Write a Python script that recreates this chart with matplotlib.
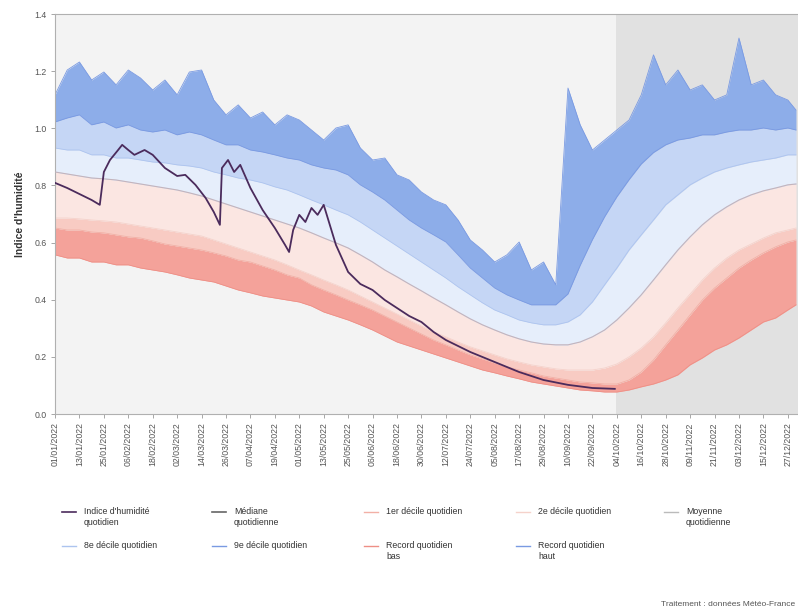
import matplotlib
matplotlib.use("Agg")
import matplotlib.pyplot as plt
from datetime import date

plt.rcParams['font.family'] = ['Liberation Sans', 'DejaVu Sans']

# day of year (0 = 1 January) for the climatology series
days = list(range(0, 361, 6)) + [364]

record_high = [1.117, 1.204, 1.232, 1.169, 1.197, 1.152, 1.204, 1.176, 1.134, 1.169,
               1.117, 1.197, 1.204, 1.099, 1.047, 1.082, 1.036, 1.057, 1.012, 1.047,
               1.029, 0.994, 0.959, 1.001, 1.012, 0.931, 0.889, 0.896, 0.837, 0.819,
               0.777, 0.749, 0.732, 0.679, 0.609, 0.574, 0.532, 0.557, 0.602, 0.504,
               0.532, 0.452, 1.141, 1.012, 0.924, 0.959, 0.994, 1.029, 1.117, 1.257,
               1.152, 1.204, 1.134, 1.152, 1.099, 1.117, 1.316, 1.152, 1.169, 1.117,
               1.099, 1.064]
decile_9 = [1.022, 1.036, 1.047, 1.012, 1.022, 1.001, 1.012, 0.994, 0.987, 0.994,
            0.977, 0.987, 0.977, 0.959, 0.942, 0.942, 0.924, 0.917, 0.907, 0.896,
            0.889, 0.872, 0.861, 0.854, 0.837, 0.802, 0.777, 0.749, 0.714, 0.679,
            0.651, 0.627, 0.602, 0.557, 0.511, 0.476, 0.441, 0.417, 0.399, 0.382,
            0.382, 0.382, 0.420, 0.520, 0.610, 0.690, 0.760, 0.820, 0.875, 0.915,
            0.942, 0.959, 0.966, 0.977, 0.977, 0.987, 0.994, 0.994, 1.001, 0.994,
            1.001, 0.994]
decile_8 = [0.931, 0.924, 0.924, 0.907, 0.907, 0.896, 0.896, 0.889, 0.882, 0.879,
            0.872, 0.868, 0.861, 0.847, 0.837, 0.826, 0.819, 0.809, 0.795, 0.784,
            0.767, 0.749, 0.732, 0.714, 0.697, 0.672, 0.644, 0.616, 0.588, 0.560,
            0.532, 0.504, 0.476, 0.445, 0.417, 0.389, 0.364, 0.347, 0.329, 0.319,
            0.312, 0.312, 0.322, 0.347, 0.392, 0.452, 0.511, 0.574, 0.627, 0.679,
            0.732, 0.767, 0.802, 0.826, 0.847, 0.861, 0.872, 0.882, 0.889, 0.896,
            0.907, 0.907]
median = [0.847, 0.840, 0.833, 0.826, 0.823, 0.819, 0.812, 0.805, 0.798, 0.791,
          0.784, 0.774, 0.763, 0.749, 0.735, 0.721, 0.707, 0.693, 0.679, 0.665,
          0.651, 0.634, 0.616, 0.599, 0.581, 0.557, 0.532, 0.504, 0.480, 0.455,
          0.431, 0.406, 0.382, 0.357, 0.333, 0.312, 0.294, 0.277, 0.263, 0.252,
          0.245, 0.242, 0.242, 0.252, 0.270, 0.294, 0.329, 0.371, 0.417, 0.469,
          0.522, 0.574, 0.620, 0.662, 0.697, 0.725, 0.749, 0.767, 0.781, 0.791,
          0.802, 0.805]
decile_2 = [0.686, 0.686, 0.683, 0.679, 0.676, 0.672, 0.665, 0.658, 0.651, 0.644,
            0.637, 0.630, 0.623, 0.609, 0.595, 0.581, 0.567, 0.553, 0.539, 0.522,
            0.504, 0.487, 0.469, 0.452, 0.434, 0.413, 0.392, 0.371, 0.350, 0.329,
            0.308, 0.287, 0.270, 0.252, 0.235, 0.221, 0.207, 0.193, 0.182, 0.172,
            0.165, 0.158, 0.154, 0.154, 0.154, 0.161, 0.175, 0.200, 0.231, 0.270,
            0.319, 0.371, 0.420, 0.469, 0.511, 0.546, 0.574, 0.595, 0.616, 0.634,
            0.644, 0.651]
decile_1 = [0.651, 0.644, 0.644, 0.637, 0.634, 0.627, 0.620, 0.616, 0.606, 0.595,
            0.588, 0.581, 0.574, 0.564, 0.553, 0.539, 0.532, 0.518, 0.504, 0.487,
            0.476, 0.452, 0.434, 0.417, 0.399, 0.382, 0.364, 0.343, 0.322, 0.301,
            0.280, 0.259, 0.242, 0.224, 0.207, 0.193, 0.179, 0.165, 0.154, 0.144,
            0.133, 0.126, 0.119, 0.112, 0.109, 0.105, 0.105, 0.119, 0.147, 0.189,
            0.242, 0.294, 0.347, 0.399, 0.441, 0.476, 0.511, 0.539, 0.564, 0.585,
            0.602, 0.609]
record_low = [0.557, 0.546, 0.546, 0.532, 0.532, 0.522, 0.522, 0.511, 0.504, 0.497,
              0.487, 0.476, 0.469, 0.462, 0.448, 0.434, 0.424, 0.413, 0.406, 0.399,
              0.392, 0.378, 0.357, 0.343, 0.329, 0.312, 0.294, 0.273, 0.252, 0.238,
              0.224, 0.210, 0.196, 0.182, 0.168, 0.154, 0.144, 0.133, 0.123, 0.112,
              0.105, 0.098, 0.091, 0.084, 0.081, 0.077, 0.077, 0.084, 0.095, 0.105,
              0.119, 0.137, 0.172, 0.196, 0.224, 0.242, 0.266, 0.294, 0.322, 0.336,
              0.364, 0.382]

# current year soil wetness index
index_days = [0, 6, 12, 18, 22, 24, 27, 31, 33, 36, 39, 44, 48, 54, 60, 64, 69, 74,
              78, 81, 82, 85, 88, 91, 96, 102, 108, 113, 115, 117, 120, 123, 126,
              129, 132, 135, 138, 144, 150, 156, 162, 168, 174, 180, 186, 192, 204,
              216, 228, 240, 252, 264, 275]
index_values = [0.809, 0.791, 0.770, 0.749, 0.732, 0.847, 0.889, 0.924, 0.942, 0.924,
                0.907, 0.924, 0.907, 0.861, 0.833, 0.837, 0.802, 0.756, 0.707, 0.662,
                0.861, 0.889, 0.847, 0.872, 0.791, 0.714, 0.651, 0.592, 0.567, 0.644,
                0.697, 0.672, 0.721, 0.697, 0.732, 0.662, 0.592, 0.497, 0.455, 0.434,
                0.399, 0.371, 0.343, 0.322, 0.287, 0.259, 0.217, 0.182, 0.147, 0.119,
                0.102, 0.091, 0.088]

date_labels = ["01/01/2022", "13/01/2022", "25/01/2022", "06/02/2022", "18/02/2022",
               "02/03/2022", "14/03/2022", "26/03/2022", "07/04/2022", "19/04/2022",
               "01/05/2022", "13/05/2022", "25/05/2022", "06/06/2022", "18/06/2022",
               "30/06/2022", "12/07/2022", "24/07/2022", "05/08/2022", "17/08/2022",
               "29/08/2022", "10/09/2022", "22/09/2022", "04/10/2022", "16/10/2022",
               "28/10/2022", "09/11/2022", "21/11/2022", "03/12/2022", "15/12/2022",
               "27/12/2022"]

legend_labels = ["Indice d'humidité\nquotidien", "Médiane\nquotidienne",
                 "1er décile quotidien", "2e décile quotidien", "Moyenne\nquotidienne",
                 "8e décile quotidien", "9e décile quotidien",
                 "Record quotidien\nbas", "Record quotidien\nhaut"]


def day_of_year(label):
    d, m, y = (int(p) for p in label.split("/"))
    return (date(y, m, d) - date(y, 1, 1)).days


W, H = 798, 613
fig = plt.figure(figsize=(W / 100, H / 100), dpi=100)
fig.patch.set_facecolor("white")
ax = fig.add_axes([55 / W, 1 - 414 / H, (W - 55) / W, 400 / H])
ax.set_facecolor("#f3f3f3")

# period not yet observed
ax.axvspan(index_days[-1] + 0.5, 365, color="#e1e1e1", lw=0, zorder=0)

bands = [
    (record_low, decile_1, "#f4a29a", "#ee8f86"),
    (decile_1, decile_2, "#f8cbc3", "#f2b0a6"),
    (decile_2, median, "#fbe6e2", "#f5d2cb"),
    (median, decile_8, "#e6eefb", "#d2def5"),
    (decile_8, decile_9, "#c5d6f5", "#adc4ef"),
    (decile_9, record_high, "#8dade9", "#7a9ae2"),
]
for low, high, fill, edge in bands:
    ax.fill_between(days, low, high, color=fill, lw=0, zorder=1)
    ax.plot(days, low, color=edge, lw=0.6, zorder=2)
ax.plot(days, record_high, color="#7a9ae2", lw=0.6, zorder=2)
ax.plot(days, median, color="#c4b4bc", lw=0.8, zorder=3)

ax.plot(index_days, index_values, color="#4b2b5c", lw=1.3, zorder=5)

ax.set_xlim(0, 365)
ax.set_ylim(0, 1.4)
ax.set_xticks([day_of_year(s) for s in date_labels])
ax.set_xticklabels(date_labels, rotation=90, fontsize=6.3, color="#555555")
yt = [0.2 * i for i in range(8)]
ax.set_yticks(yt)
ax.set_yticklabels(["%.1f" % v for v in yt], fontsize=6.3, color="#555555")
ax.tick_params(axis="both", length=3, width=0.6, color="#999999", pad=3)
ax.set_ylabel("Indice d'humidité", fontsize=7.5, fontweight="bold",
              color="#333333", labelpad=7)
for side in ("left", "bottom", "top"):
    ax.spines[side].set_color("#b0b0b0")
    ax.spines[side].set_linewidth(0.8)
ax.spines["right"].set_visible(False)

# legend under the plot, drawn by hand in two rows
legend_colors = ["#4b2b5c", "#666666", "#f2b0a6", "#f5d2cb", "#bbbbbb",
                 "#adc4ef", "#7a9ae2", "#ee8f86", "#7a9ae2"]
col_x = [62, 212, 364, 516, 664]
row_y = [512, 546]
for i, (lab, col) in enumerate(zip(legend_labels, legend_colors)):
    r, c = (0, i) if i < 5 else (1, i - 5)
    x0, y0 = col_x[c], row_y[r]
    fig.add_artist(plt.Line2D([x0 / W, (x0 + 14) / W], [1 - y0 / H] * 2,
                              color=col, lw=1.2 if i < 2 else 1.0,
                              transform=fig.transFigure))
    fig.text((x0 + 22) / W, 1 - (y0 - 5) / H, lab, fontsize=6.3, color="#333333",
             va="top", ha="left", linespacing=1.35)

fig.text(795 / W, 1 - 605 / H, "Traitement : données Météo-France", fontsize=6,
         color="#555555", ha="right", va="center")

fig.savefig("out.png", dpi=100)
